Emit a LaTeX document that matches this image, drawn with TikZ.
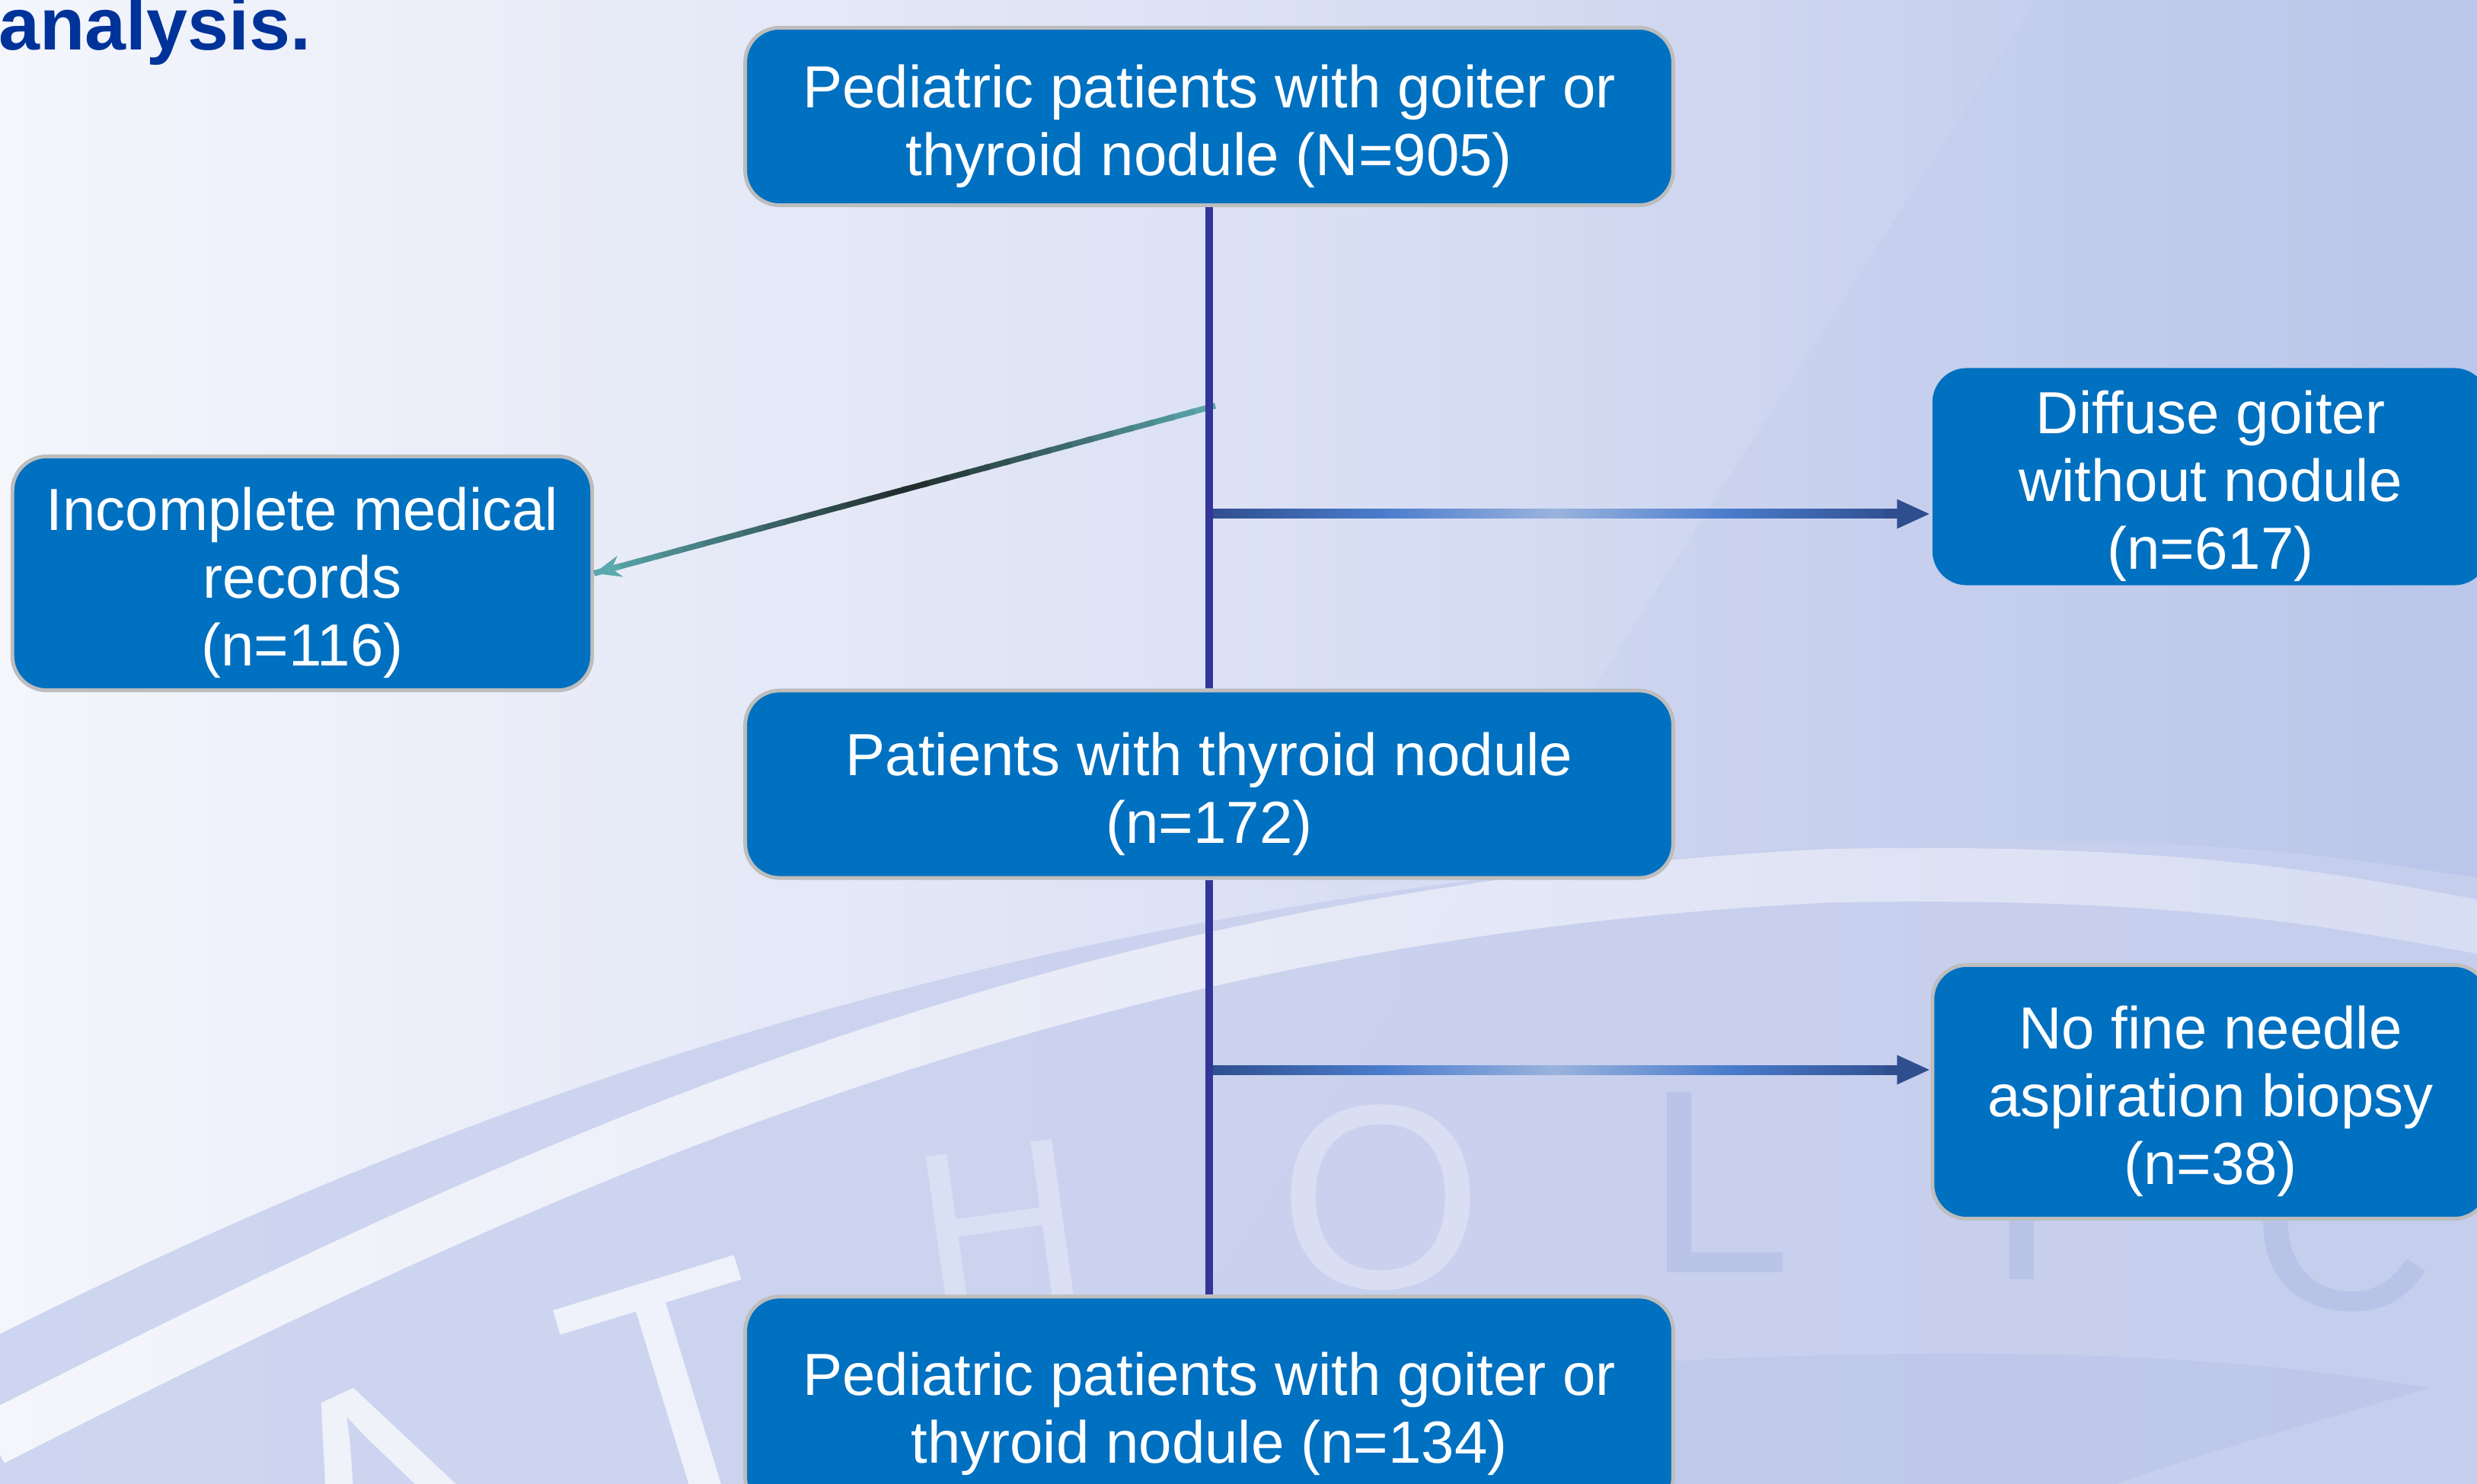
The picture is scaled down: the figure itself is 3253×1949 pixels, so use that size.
\documentclass[tikz,border=0pt]{standalone}
\usepackage{fontspec}
\setmainfont{Liberation Sans}
\usetikzlibrary{arrows.meta,calc,fadings}

\definecolor{boxblue}{HTML}{0070C0}
\definecolor{boxline}{HTML}{BDBDBD}
\definecolor{trunkblue}{HTML}{343599}
\definecolor{arrnavy}{HTML}{2F4E8E}
\definecolor{arrmid}{HTML}{4A7CCC}
\definecolor{arrpale}{HTML}{9AB3DD}
\definecolor{tealend}{HTML}{5AA9AE}
\definecolor{tealmid}{HTML}{1F2A2A}
\definecolor{titleblue}{HTML}{003399}
\definecolor{bgleft}{HTML}{F4F6FC}
\definecolor{bgmid}{HTML}{DCE1F4}
\definecolor{bgright}{HTML}{BAC6EA}
\definecolor{ringblue}{HTML}{C8D0EE}
\definecolor{letterdark}{HTML}{A9B6E2}

\pgfdeclarehorizontalshading{barshade}{100bp}{color(0bp)=(arrnavy); color(25bp)=(arrnavy);
  color(37.5bp)=(arrmid); color(50bp)=(arrpale); color(62.5bp)=(arrmid);
  color(75bp)=(arrnavy); color(100bp)=(arrnavy)}
\tikzfading[name=bandfade, left color=transparent!20, right color=transparent!70]

% box text, set a little low as in the slide
\newcommand{\boxlines}[1]{\raisebox{-4.2pt}[\height][\depth]{\begin{tabular}{@{}c@{}}#1\end{tabular}}}

\tikzset{
  box/.style={draw=boxline, line width=1.4pt, fill=boxblue, rounded corners=0.45cm,
    text=white, inner sep=0pt, font=\fontsize{22.2}{25.3}\selectfont},
  trunk/.style={draw=trunkblue, line width=3pt},
  wmark/.style={text=white, text opacity=0.7, inner sep=0pt, font=\fontsize{125}{125}\selectfont},
  wmfaint/.style={text=white, text opacity=0.3, inner sep=0pt, font=\fontsize{98}{98}\selectfont},
  wmdark/.style={text=letterdark, text opacity=0.45, inner sep=0pt, font=\fontsize{98}{98}\selectfont}
}

\begin{document}
\begin{tikzpicture}[x=0.01cm, y=-0.01cm]
\useasboundingbox (0,0) rectangle (3253,1949);
\clip (0,0) rectangle (3253,1949);

% background and watermark
\shade[left color=bgleft, right color=bgright, middle color=bgmid] (0,0) rectangle (3253,1949);
\fill[bgright, opacity=0.2] (2674,0) -- (3253,0) -- (3253,1949) -- (1420,1949) -- cycle;
\fill[ringblue, opacity=0.85] (-10,1757) .. controls (700,1400) and (1400,1180) .. (2400,1110)
  .. controls (2900,1090) and (3100,1130) .. (3300,1160) -- (3300,2000) -- (-10,2000) -- cycle;
\fill[letterdark, opacity=0.25] (2150,1790) .. controls (2700,1760) and (3000,1790) .. (3190,1823)
  .. controls (3000,1880) and (2850,1920) .. (2750,1960) -- (2150,1960) -- cycle;
\draw[white, line width=20pt, path fading=bandfade] (-10,1890) .. controls (700,1530) and (1400,1200) .. (2400,1150)
  .. controls (2900,1140) and (3100,1190) .. (3300,1225);
\node[wmark, rotate=25] at (506,1970) {A};
\node[wmark, rotate=17] at (890,1830) {T};
\node[wmfaint, rotate=8, font=\fontsize{85}{85}\selectfont] at (1313,1610) {H};
\node[wmfaint] at (1814,1573) {O};
\node[wmdark] at (2257,1553) {L};
\node[wmdark] at (2655,1562) {I};
\node[wmdark, rotate=-5] at (3080,1600) {C};

% title
\node[anchor=base west, inner sep=0pt, text=titleblue, font=\fontsize{27.6}{30}\selectfont\bfseries] (title) at (-2,66) {analysis.};

% boxes
\node[box, minimum width=12.18cm, minimum height=2.33cm] (n0) at (1588,153) {\boxlines{Pediatric patients with goiter or\\thyroid nodule (N=905)}};
\node[box, minimum width=7.61cm, minimum height=3.07cm] (nExcl) at (397,753) {\boxlines{Incomplete medical\\records\\(n=116)}};
\node[box, draw=none, minimum width=7.30cm, minimum height=2.85cm] (nDiff) at (2903,626) {\boxlines{Diffuse goiter\\without nodule\\(n=617)}};
\node[box, minimum width=12.18cm, minimum height=2.46cm] (n1) at (1588,1030) {\boxlines{Patients with thyroid nodule\\(n=172)}};
\node[box, minimum width=7.30cm, minimum height=3.33cm] (nFna) at (2903,1434) {\boxlines{No fine needle\\aspiration biopsy\\(n=38)}};
\node[box, minimum width=12.18cm, minimum height=2.82cm] (n2) at (1588,1844) {\boxlines{Pediatric patients with goiter or\\thyroid nodule (n=134)}};

% branch points
\coordinate (s1) at (1588,535);
\coordinate (b1) at (1588,675);
\coordinate (b2) at (1588,1405);

% excluded: teal line, dark in the middle
\foreach \k in {0,...,29}{
  \pgfmathsetmacro\mixv{100*abs((2*\k+1)/30-1)}
  \draw[line width=2.2pt, tealend!\mixv!tealmid] ($(s1)!{(\k-0.3)/30}!(nExcl.east)$) -- ($(s1)!{(\k+1)/30}!(nExcl.east)$);
}
\draw[tealend, line width=2.2pt, -{Stealth[length=10pt,width=8pt]}] ($(nExcl.east)!0.04!(s1)$) -- (nExcl.east);

% right arrows
\shade[shading=barshade] ($(b1)+(0,-6)$) rectangle ($(b1 -| nDiff.west)+(-40,6)$);
\draw[arrnavy, line width=3.4pt, -{Triangle[length=12.5pt,width=10pt]}] ($(b1 -| nDiff.west)+(-60,0)$) -- (b1 -| nDiff.west);
\shade[shading=barshade] ($(b2)+(0,-6)$) rectangle ($(b2 -| nFna.west)+(-40,6)$);
\draw[arrnavy, line width=3.4pt, -{Triangle[length=12.5pt,width=10pt]}] ($(b2 -| nFna.west)+(-60,0)$) -- (b2 -| nFna.west);

% trunk
\draw[trunk] (n0.south) -- (n1.north);
\draw[trunk] (n1.south) -- (n2.north);
\end{tikzpicture}
\end{document}
